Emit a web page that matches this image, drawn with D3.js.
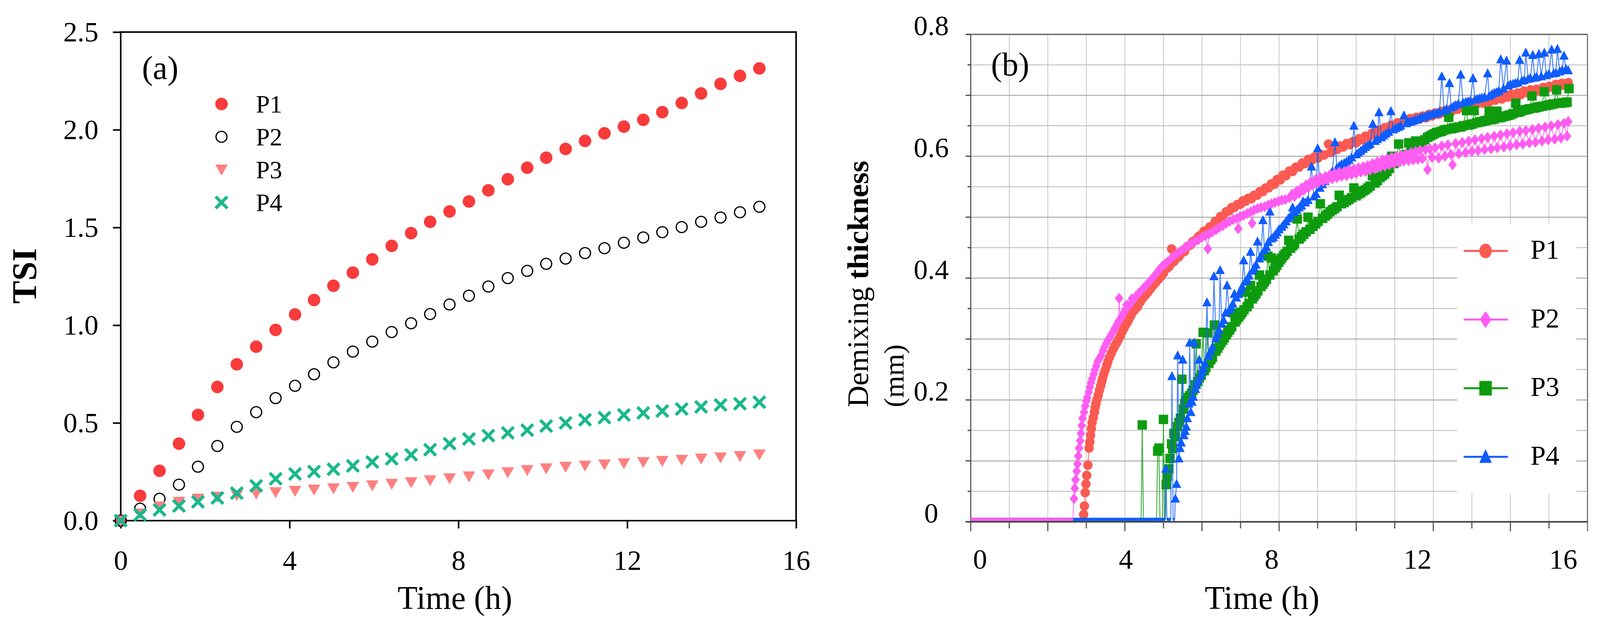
<!DOCTYPE html>
<html>
<head>
<meta charset="utf-8">
<script src="https://cdn.jsdelivr.net/npm/d3@7"></script>
<style>
  body { margin: 0; background: #fff; }
  svg text { font-family: "Liberation Serif", "Times New Roman", serif; fill: #000; }
</style>
</head>
<body>
<div id="chart"></div>
<script>
const W = 4104, H = 1599;

// ---- panel (a): TSI, one reading every ~27.5 min
const timeA = [0, 0.46, 0.92, 1.38, 1.83, 2.29, 2.75, 3.21, 3.67, 4.13, 4.58, 5.04, 5.5, 5.96, 6.42, 6.88, 7.33,
  7.79, 8.25, 8.71, 9.17, 9.63, 10.08, 10.54, 11, 11.46, 11.92, 12.38, 12.83, 13.29, 13.75, 14.21, 14.67, 15.13];
const tsiP1 = [0, 0.127, 0.255, 0.394, 0.541, 0.684, 0.8, 0.89, 0.976, 1.055, 1.129, 1.202, 1.269, 1.337, 1.406,
  1.471, 1.529, 1.582, 1.633, 1.69, 1.747, 1.806, 1.857, 1.902, 1.943, 1.982, 2.016, 2.051, 2.09, 2.137, 2.186, 2.235, 2.276, 2.314];
const tsiP2 = [0, 0.061, 0.112, 0.184, 0.276, 0.382, 0.48, 0.555, 0.627, 0.69, 0.749, 0.81, 0.865, 0.916, 0.965,
  1.01, 1.057, 1.106, 1.151, 1.198, 1.241, 1.278, 1.314, 1.341, 1.369, 1.394, 1.422, 1.449, 1.476, 1.502, 1.529, 1.551, 1.578, 1.606];
const tsiP3 = [0, 0.036, 0.072, 0.096, 0.112, 0.122, 0.13, 0.138, 0.145, 0.152, 0.158, 0.165, 0.172, 0.18, 0.188,
  0.196, 0.206, 0.216, 0.226, 0.236, 0.247, 0.258, 0.267, 0.275, 0.281, 0.287, 0.293, 0.299, 0.305, 0.311, 0.317, 0.323, 0.33, 0.338];
const tsiP4 = [0, 0.03, 0.055, 0.075, 0.096, 0.116, 0.141, 0.178, 0.214, 0.239, 0.251, 0.263, 0.28, 0.3, 0.316,
  0.337, 0.363, 0.394, 0.418, 0.435, 0.449, 0.463, 0.484, 0.5, 0.516, 0.527, 0.541, 0.551, 0.561, 0.571, 0.582, 0.592, 0.598, 0.606];

const seriesNames = ["P1", "P2", "P3", "P4"];
const hourTicks = [0, 4, 8, 12, 16];
const tsiTicks = [0, 0.5, 1, 1.5, 2, 2.5];
const demixTicks = [0, 0.2, 0.4, 0.6, 0.8];

// ---- panel (b): demixing thickness, [time h, mm]
const demixP1 = [[0,.004],[0.5,.004],[1,.004],[1.5,.004],[2,.004],[2.5,.004],[2.9,.004],
  [2.93,.012],[2.95,.026],[2.97,.048],[2.99,.062],[3.01,.076],[3.04,.093],[3.07,.121],[3.09,.131],[3.11,.142],[3.13,.153],
  [3.15,.163],[3.18,.171],[3.21,.18],[3.23,.188],[3.25,.194],[3.28,.201],[3.31,.208],[3.34,.216],[3.37,.223],[3.4,.23],
  [3.42,.235],[3.45,.242],[3.49,.249],[3.53,.257],[3.56,.263],[3.6,.27],[3.65,.277],[3.7,.284],[3.74,.289],[3.79,.294],
  [3.83,.299],[3.88,.305],[3.92,.311],[3.97,.317],[4.01,.322],[4.06,.327],[4.1,.332],[4.15,.338],[4.19,.343],[4.26,.348],
  [4.33,.353],[4.4,.361],[4.46,.367],[4.53,.372],[4.6,.377],[4.67,.383],[4.73,.388],[4.8,.393],[4.87,.398],[4.94,.403],
  [5,.408],[5.09,.416],[5.15,.419],[5.21,.448],[5.27,.427],[5.33,.432],[5.4,.435],[5.47,.441],[5.55,.444],[5.62,.452],
  [5.69,.454],[5.76,.46],[5.83,.462],[5.91,.468],[5.98,.471],[6.05,.477],[6.12,.478],[6.2,.484],[6.27,.485],[6.34,.493],
  [6.41,.494],[6.48,.501],[6.55,.502],[6.63,.509],[6.7,.51],[6.77,.516],[6.84,.516],[6.92,.521],[6.99,.521],[7.06,.527],
  [7.13,.526],[7.2,.531],[7.28,.53],[7.35,.536],[7.43,.536],[7.5,.542],[7.58,.542],[7.65,.548],[7.73,.548],[7.8,.555],
  [7.88,.554],[7.95,.562],[8.03,.561],[8.1,.569],[8.18,.568],[8.27,.576],[8.35,.575],[8.43,.582],[8.52,.582],[8.6,.589],
  [8.68,.588],[8.76,.595],[8.84,.593],[8.92,.599],[9.01,.597],[9.09,.603],[9.17,.602],[9.28,.62],[9.34,.606],[9.42,.612],
  [9.5,.611],[9.58,.617],[9.66,.615],[9.75,.621],[9.83,.619],[9.91,.624],[10,.622],[10.08,.629],[10.16,.627],[10.24,.633],
  [10.33,.632],[10.41,.638],[10.49,.636],[10.57,.643],[10.66,.641],[10.74,.647],[10.82,.645],[10.9,.651],[10.98,.649],
  [11.07,.655],[11.15,.652],[11.23,.658],[11.31,.656],[11.4,.662],[11.48,.659],[11.56,.664],[11.64,.661],[11.72,.666],
  [11.81,.663],[11.89,.669],[11.97,.666],[12.05,.671],[12.14,.669],[12.22,.674],[12.3,.671],[12.38,.676],[12.46,.673],
  [12.55,.679],[12.63,.677],[12.71,.682],[12.79,.68],[12.88,.686],[12.96,.683],[13.04,.688],[13.12,.685],[13.2,.69],
  [13.29,.687],[13.37,.692],[13.45,.689],[13.53,.694],[13.61,.692],[13.7,.697],[13.78,.694],[13.86,.7],[13.94,.697],
  [14.02,.702],[14.11,.699],[14.19,.704],[14.27,.701],[14.35,.707],[14.44,.704],[14.52,.709],[14.6,.705],[14.68,.71],
  [14.76,.707],[14.85,.713],[14.93,.71],[15.01,.715],[15.09,.713],[15.18,.718],[15.26,.715],[15.34,.72],[15.42,.716],[15.5,.721]];

const demixP2 = [[0,.004],[0.5,.004],[1,.004],[1.5,.004],[2,.004],[2.5,.004],[2.65,.004],
  [2.68,.038],[2.7,.055],[2.72,.069],[2.75,.083],[2.77,.095],[2.79,.108],[2.81,.121],[2.84,.133],[2.86,.145],[2.88,.158],
  [2.9,.17],[2.94,.18],[2.97,.19],[3,.198],[3.02,.204],[3.06,.213],[3.09,.221],[3.12,.228],[3.15,.235],[3.19,.242],
  [3.22,.249],[3.26,.256],[3.29,.263],[3.34,.268],[3.38,.273],[3.43,.281],[3.47,.287],[3.52,.293],[3.56,.298],[3.61,.303],
  [3.65,.308],[3.7,.313],[3.74,.318],[3.79,.323],[3.83,.329],[3.85,.367],[3.88,.333],[3.92,.337],[3.97,.343],[4.01,.348],
  [4.04,.356],[4.08,.353],[4.15,.358],[4.18,.366],[4.22,.364],[4.28,.37],[4.35,.375],[4.42,.379],[4.49,.384],[4.55,.388],
  [4.62,.393],[4.69,.398],[4.76,.403],[4.82,.408],[4.89,.414],[4.96,.419],[5.02,.422],[5.09,.426],[5.18,.431],[5.27,.436],
  [5.37,.441],[5.46,.445],[5.55,.449],[5.64,.453],[5.73,.457],[5.82,.46],[5.91,.463],[6,.467],[6.09,.47],[6.15,.448],
  [6.18,.472],[6.27,.476],[6.36,.479],[6.45,.483],[6.54,.486],[6.63,.49],[6.72,.493],[6.81,.496],[6.9,.498],[6.94,.481],
  [6.99,.501],[7.08,.503],[7.17,.506],[7.26,.509],[7.3,.49],[7.35,.512],[7.44,.514],[7.53,.516],[7.62,.517],[7.71,.52],
  [7.8,.522],[7.89,.524],[7.98,.526],[8.07,.528],[8.16,.529],[8.27,.532],[8.34,.538],[8.4,.534],[8.46,.543],[8.52,.539],
  [8.58,.548],[8.64,.544],[8.7,.553],[8.76,.548],[8.82,.558],[8.88,.553],[8.95,.562],[9.01,.556],[9.07,.565],[9.14,.559],
  [9.2,.567],[9.26,.561],[9.32,.57],[9.38,.563],[9.44,.572],[9.5,.565],[9.56,.574],[9.62,.567],[9.69,.575],[9.75,.568],
  [9.81,.578],[9.88,.57],[9.94,.579],[10,.572],[10.06,.581],[10.12,.574],[10.18,.583],[10.24,.575],[10.3,.585],[10.36,.577],
  [10.42,.588],[10.49,.579],[10.55,.591],[10.62,.582],[10.68,.594],[10.74,.584],[10.8,.596],[10.86,.586],[10.92,.598],
  [10.98,.588],[11.04,.6],[11.1,.59],[11.17,.602],[11.23,.592],[11.29,.604],[11.36,.593],[11.42,.606],[11.48,.594],
  [11.54,.608],[11.6,.595],[11.66,.61],[11.72,.596],[11.8,.611],[11.85,.578],[11.91,.612],[11.97,.598],[12.05,.614],
  [12.14,.597],[12.22,.617],[12.3,.6],[12.38,.619],[12.46,.603],[12.5,.586],[12.58,.621],[12.66,.604],[12.75,.623],
  [12.84,.606],[12.92,.625],[13,.608],[13.08,.627],[13.16,.609],[13.25,.629],[13.33,.611],[13.41,.631],[13.5,.612],
  [13.58,.633],[13.66,.614],[13.74,.635],[13.83,.615],[13.91,.637],[13.99,.617],[14.07,.639],[14.16,.619],[14.24,.641],
  [14.32,.62],[14.4,.642],[14.49,.622],[14.57,.644],[14.65,.623],[14.73,.646],[14.82,.625],[14.9,.648],[14.98,.627],
  [15.06,.65],[15.15,.628],[15.23,.652],[15.31,.63],[15.39,.654],[15.47,.633],[15.5,.657]];

const demixP3 = [[0,.004],[0.5,.004],[1,.004],[1.5,.004],[2,.004],[2.5,.004],[3,.004],[3.5,.004],[4,.004],[4.42,.004],
  [4.45,.159],[4.48,.004],[4.82,.004],[4.85,.116],[4.88,.121],[4.91,.004],[4.97,.004],[5,.168],[5.03,.004],[5.05,.004],
  [5.07,.061],[5.1,.075],[5.14,.087],[5.17,.104],[5.21,.128],[5.24,.12],[5.27,.145],[5.31,.14],[5.36,.156],[5.4,.163],
  [5.44,.17],[5.48,.234],[5.52,.185],[5.55,.194],[5.59,.199],[5.64,.204],[5.68,.207],[5.73,.211],[5.77,.216],[5.82,.225],
  [5.85,.292],[5.89,.23],[5.93,.236],[5.98,.241],[6.03,.311],[6.06,.248],[6.1,.253],[6.14,.31],[6.18,.26],[6.23,.266],
  [6.27,.27],[6.32,.323],[6.36,.28],[6.41,.285],[6.45,.29],[6.49,.294],[6.54,.298],[6.58,.302],[6.63,.307],[6.67,.311],
  [6.72,.315],[6.77,.32],[6.81,.343],[6.86,.328],[6.9,.332],[6.95,.336],[7,.34],[7.04,.344],[7.09,.348],[7.13,.377],
  [7.17,.353],[7.22,.358],[7.26,.388],[7.31,.366],[7.35,.37],[7.4,.374],[7.45,.379],[7.49,.405],[7.53,.386],[7.58,.39],
  [7.62,.394],[7.67,.398],[7.71,.436],[7.76,.405],[7.8,.433],[7.85,.412],[7.9,.417],[7.94,.421],[7.99,.426],[8.03,.43],
  [8.07,.433],[8.12,.437],[8.16,.44],[8.21,.444],[8.25,.462],[8.3,.449],[8.35,.453],[8.4,.456],[8.47,.497],[8.52,.464],
  [8.58,.468],[8.64,.472],[8.7,.476],[8.75,.5],[8.8,.48],[8.88,.485],[8.95,.489],[9.01,.493],[9.07,.522],[9.13,.498],
  [9.2,.502],[9.26,.505],[9.32,.509],[9.38,.512],[9.44,.514],[9.5,.517],[9.56,.536],[9.62,.522],[9.69,.524],[9.75,.527],
  [9.81,.529],[9.88,.532],[9.94,.548],[10,.535],[10.06,.538],[10.12,.54],[10.18,.543],[10.24,.545],[10.3,.548],[10.36,.551],
  [10.42,.568],[10.49,.556],[10.55,.56],[10.62,.565],[10.68,.568],[10.74,.571],[10.8,.575],[10.86,.58],[10.92,.6],
  [10.98,.588],[11.04,.591],[11.1,.62],[11.17,.597],[11.23,.6],[11.29,.603],[11.36,.622],[11.42,.609],[11.48,.613],
  [11.54,.625],[11.6,.617],[11.66,.62],[11.72,.623],[11.78,.627],[11.85,.631],[11.91,.633],[11.97,.635],[12.03,.637],
  [12.09,.639],[12.16,.64],[12.22,.641],[12.28,.643],[12.34,.644],[12.4,.664],[12.46,.645],[12.52,.646],[12.58,.647],
  [12.65,.648],[12.71,.648],[12.77,.65],[12.86,.675],[12.9,.651],[12.96,.652],[13.02,.653],[13.06,.675],[13.12,.655],
  [13.2,.656],[13.26,.657],[13.32,.658],[13.39,.659],[13.45,.674],[13.51,.66],[13.58,.661],[13.65,.674],[13.7,.663],
  [13.76,.664],[13.82,.665],[13.88,.666],[13.94,.667],[14,.668],[14.07,.67],[14.14,.687],[14.19,.672],[14.25,.673],
  [14.31,.675],[14.38,.676],[14.44,.677],[14.5,.678],[14.56,.699],[14.62,.679],[14.68,.68],[14.74,.681],[14.81,.682],
  [14.88,.706],[14.93,.683],[14.99,.684],[15.06,.685],[15.12,.686],[15.2,.709],[15.25,.687],[15.31,.687],[15.37,.688],
  [15.42,.688],[15.47,.689],[15.52,.711]];

const demixP4 = [[0,.004],[0.5,.004],[1,.004],[1.5,.004],[2,.004],[2.5,.004],[3,.004],[3.5,.004],[4,.004],[4.5,.004],
  [5.04,.004],[5.06,.087],[5.09,.004],[5.19,.004],[5.22,.239],[5.25,.004],[5.29,.004],[5.31,.038],[5.34,.062],[5.37,.273],
  [5.4,.104],[5.43,.121],[5.46,.13],[5.5,.266],[5.53,.142],[5.56,.149],[5.59,.156],[5.62,.17],[5.66,.194],[5.68,.294],
  [5.71,.18],[5.74,.197],[5.77,.205],[5.8,.294],[5.83,.218],[5.86,.225],[5.9,.232],[5.93,.266],[5.96,.239],[6,.246],
  [6.04,.252],[6.08,.26],[6.13,.36],[6.17,.272],[6.22,.28],[6.27,.287],[6.31,.403],[6.36,.301],[6.4,.308],[6.44,.315],
  [6.47,.413],[6.51,.325],[6.56,.331],[6.61,.343],[6.65,.388],[6.7,.347],[6.75,.352],[6.8,.358],[6.84,.374],[6.89,.368],
  [6.95,.374],[7,.38],[7.04,.386],[7.08,.429],[7.12,.394],[7.17,.398],[7.22,.404],[7.26,.443],[7.31,.412],[7.35,.417],
  [7.4,.422],[7.44,.46],[7.49,.432],[7.53,.437],[7.58,.495],[7.62,.446],[7.67,.451],[7.72,.459],[7.76,.509],[7.8,.465],
  [7.85,.467],[7.9,.471],[7.95,.475],[8,.48],[8.07,.484],[8.12,.488],[8.18,.493],[8.24,.498],[8.3,.502],[8.35,.516],
  [8.4,.508],[8.46,.512],[8.52,.516],[8.58,.519],[8.62,.526],[8.68,.524],[8.75,.528],[8.84,.583],[8.9,.534],[8.96,.538],
  [9,.613],[9.06,.548],[9.12,.554],[9.19,.559],[9.26,.565],[9.32,.57],[9.38,.575],[9.45,.623],[9.5,.581],[9.56,.584],
  [9.62,.587],[9.69,.589],[9.75,.591],[9.81,.594],[9.88,.598],[9.94,.65],[10,.603],[10.06,.606],[10.12,.609],[10.18,.612],
  [10.24,.615],[10.3,.618],[10.36,.62],[10.43,.653],[10.49,.625],[10.55,.628],[10.59,.672],[10.65,.631],[10.71,.634],
  [10.77,.637],[10.84,.64],[10.9,.674],[10.96,.644],[11.02,.646],[11.09,.648],[11.15,.65],[11.24,.667],[11.3,.654],
  [11.36,.656],[11.42,.657],[11.48,.658],[11.54,.66],[11.6,.661],[11.66,.663],[11.72,.664],[11.78,.665],[11.85,.667],
  [11.91,.668],[11.97,.669],[12.03,.67],[12.1,.671],[12.16,.673],[12.22,.731],[12.28,.675],[12.34,.677],[12.42,.72],
  [12.46,.68],[12.52,.682],[12.58,.684],[12.65,.686],[12.71,.734],[12.77,.688],[12.84,.689],[12.9,.69],[12.96,.691],
  [13.03,.728],[13.08,.693],[13.14,.694],[13.2,.695],[13.26,.696],[13.33,.697],[13.41,.736],[13.45,.699],[13.52,.702],
  [13.58,.704],[13.64,.705],[13.7,.707],[13.75,.759],[13.82,.711],[13.9,.757],[13.94,.716],[14,.718],[14.07,.719],
  [14.13,.72],[14.19,.721],[14.24,.758],[14.3,.724],[14.36,.725],[14.4,.77],[14.46,.727],[14.52,.728],[14.58,.766],
  [14.63,.729],[14.68,.73],[14.74,.768],[14.8,.731],[14.88,.77],[14.93,.733],[15,.735],[15.07,.775],[15.12,.736],
  [15.18,.737],[15.22,.776],[15.28,.739],[15.34,.741],[15.39,.765],[15.44,.743],[15.5,.741]];

const svg = d3.select("#chart").append("svg")
    .attr("width", W)
    .attr("height", H)
    .attr("viewBox", `0 0 ${W} ${H}`);

// ================= panel (a) =================
const a = {left: 309, right: 2038, top: 82, bottom: 1332};
const xA = d3.scaleLinear().domain([0, 16]).range([a.left, a.right]);
const yA = d3.scaleLinear().domain([0, 2.5]).range([a.bottom, a.top]);
const gA = svg.append("g");

gA.append("rect")
    .attr("x", a.left).attr("y", a.top)
    .attr("width", a.right - a.left).attr("height", a.bottom - a.top)
    .attr("fill", "none").attr("stroke", "#000").attr("stroke-width", 4);

const axA = gA.append("g")
    .attr("transform", `translate(0,${a.bottom})`)
    .call(d3.axisBottom(xA).tickValues(hourTicks).tickSize(20).tickSizeOuter(0).tickPadding(55).tickFormat(d3.format("d")));
axA.select(".domain").remove();
axA.selectAll("line").attr("stroke", "#000").attr("stroke-width", 4);
axA.selectAll("text").attr("font-size", 72).attr("font-family", "Liberation Serif");

const ayA = gA.append("g")
    .attr("transform", `translate(${a.left},0)`)
    .call(d3.axisLeft(yA).tickValues(tsiTicks).tickSize(20).tickSizeOuter(0).tickPadding(37).tickFormat(d3.format(".1f")));
ayA.select(".domain").remove();
ayA.selectAll("line").attr("stroke", "#000").attr("stroke-width", 4);
ayA.selectAll("text").attr("font-size", 72).attr("font-family", "Liberation Serif");

const colorsA = {P1: "#f93b3b", P2: "#000", P3: "#ff8080", P4: "#17b98b"};

function markerA(g, key, x, y) {
    if (key === "P1") {
        g.append("circle").attr("cx", x).attr("cy", y).attr("r", 16).attr("fill", colorsA.P1);
    } else if (key === "P2") {
        g.append("circle").attr("cx", x).attr("cy", y).attr("r", 14)
            .attr("fill", "none").attr("stroke", colorsA.P2).attr("stroke-width", 3.2);
    } else if (key === "P3") {
        g.append("path")
            .attr("d", `M${x - 16},${y - 13}L${x + 16},${y - 13}L${x},${y + 15}Z`)
            .attr("fill", colorsA.P3);
    } else {
        const h = 15;
        g.append("path")
            .attr("d", `M${x - h},${y - h}L${x + h},${y + h}M${x - h},${y + h}L${x + h},${y - h}`)
            .attr("stroke", colorsA.P4).attr("stroke-width", 8).attr("fill", "none");
    }
}

const tsiSeries = {P1: tsiP1, P2: tsiP2, P3: tsiP3, P4: tsiP4};
seriesNames.forEach(key => {
    const g = gA.append("g");
    tsiSeries[key].forEach((v, i) => markerA(g, key, xA(timeA[i]), yA(v)));
});

// legend (a)
const legA = gA.append("g");
seriesNames.forEach((key, i) => {
    const ly = 266 + i * 84;
    markerA(legA, key, 567, ly);
    legA.append("text").attr("x", 655).attr("y", ly + 22).attr("font-size", 64).text(key);
});

gA.append("text").attr("x", 410).attr("y", 202).attr("text-anchor", "middle").attr("font-size", 84).text("(a)");
gA.append("text").attr("transform", "translate(92,706) rotate(-90)").attr("text-anchor", "middle")
    .attr("font-size", 88).attr("font-weight", "bold").text("TSI");
gA.append("text").attr("x", (a.left + a.right) / 2 - 9).attr("y", 1558).attr("text-anchor", "middle")
    .attr("font-size", 84).text("Time (h)");

// ================= panel (b) =================
const b = {left: 2485, right: 4064, top: 88, bottom: 1335};
const xB = d3.scaleLinear().domain([0, 16]).range([b.left, b.right]);
const yB = d3.scaleLinear().domain([0, 0.8]).range([b.bottom, b.top]);
// printed hour labels in the original sit slightly off their ticks
const xLabB = d3.scaleLinear().domain([0, 16]).range([2509, 4002]);
const gB = svg.append("g");

const hourGrid = xB.ticks(16);
const mmGrid = yB.ticks(16);
const isMajorY = v => Math.round(v * 20) % 2 === 0;
const isMajorX = v => Math.round(v) % 2 === 0;

gB.append("g").selectAll("line").data(hourGrid.filter(v => v > 0 && v < 16)).join("line")
    .attr("x1", d => xB(d)).attr("x2", d => xB(d))
    .attr("y1", b.top).attr("y2", b.bottom)
    .attr("stroke", "#d2d2d2").attr("stroke-width", 2.5);
gB.append("g").selectAll("line").data(mmGrid.filter(v => v > 0 && v < 0.79)).join("line")
    .attr("x1", b.left).attr("x2", b.right)
    .attr("y1", d => yB(d)).attr("y2", d => yB(d))
    .attr("stroke", d => isMajorY(d) ? "#aaaaaa" : "#c4c4c4").attr("stroke-width", 2.5);

// white legend background that hides part of the grid
gB.append("rect").attr("x", 3730).attr("y", 572).attr("width", 305).attr("height", 690).attr("fill", "#fff");

// frame, axes and ticks
gB.append("line").attr("x1", b.left - 11).attr("x2", b.right).attr("y1", b.top).attr("y2", b.top)
    .attr("stroke", "#555").attr("stroke-width", 3);
gB.append("line").attr("x1", b.right).attr("x2", b.right).attr("y1", b.top).attr("y2", b.bottom + 24)
    .attr("stroke", "#777").attr("stroke-width", 3);
gB.append("line").attr("x1", b.left).attr("x2", b.left).attr("y1", b.top).attr("y2", b.bottom + 24)
    .attr("stroke", "#555").attr("stroke-width", 3);
gB.append("line").attr("x1", b.left - 13).attr("x2", b.right).attr("y1", b.bottom).attr("y2", b.bottom)
    .attr("stroke", "#444").attr("stroke-width", 4);
gB.append("g").selectAll("line").data(hourGrid.filter(v => v > 0 && v < 16)).join("line")
    .attr("x1", d => xB(d)).attr("x2", d => xB(d))
    .attr("y1", b.bottom).attr("y2", d => b.bottom + (isMajorX(d) ? 24 : 17))
    .attr("stroke", "#555").attr("stroke-width", 3);
gB.append("g").selectAll("line").data(mmGrid.filter(v => v > 0)).join("line")
    .attr("x1", b.left).attr("x2", d => b.left - (isMajorY(d) ? 13 : 8))
    .attr("y1", d => yB(d)).attr("y2", d => yB(d))
    .attr("stroke", "#444").attr("stroke-width", 3);

gB.append("g").selectAll("text").data(demixTicks).join("text")
    .attr("x", 2384).attr("y", d => yB(d) + 2)
    .attr("text-anchor", "middle").attr("font-size", 72)
    .text(d => d === 0 ? "0" : d3.format(".1f")(d));
gB.append("g").selectAll("text").data(hourTicks).join("text")
    .attr("x", d => xLabB(d)).attr("y", 1455)
    .attr("text-anchor", "middle").attr("font-size", 72)
    .text(d => d);

const colorsB = {P1: "#fb5a52", P2: "#ff5cf2", P3: "#0e9c0e", P4: "#0f5cff"};

function markerB(g, key, x, y, sx, sy) {
    sx = sx || 1; sy = sy || 1;
    const c = colorsB[key];
    if (key === "P1") {
        g.append("ellipse").attr("cx", x).attr("cy", y).attr("rx", 12 * sx).attr("ry", 12 * sy).attr("fill", c);
    } else if (key === "P2") {
        g.append("path").attr("d", `M${x},${y - 14 * sy}L${x + 11 * sx},${y}L${x},${y + 14 * sy}L${x - 11 * sx},${y}Z`).attr("fill", c);
    } else if (key === "P3") {
        g.append("rect").attr("x", x - 12 * sx).attr("y", y - 12 * sy).attr("width", 24 * sx).attr("height", 24 * sy).attr("fill", c);
    } else {
        g.append("path").attr("d", `M${x},${y - 13 * sy}L${x + 12 * sx},${y + 10 * sy}L${x - 12 * sx},${y + 10 * sy}Z`).attr("fill", c);
    }
}

const demixSeries = {P1: demixP1, P2: demixP2, P3: demixP3, P4: demixP4};
const lineB = d3.line().x(d => xB(d[0])).y(d => yB(d[1]));
const flatB = d3.line().defined(d => d[1] < 0.005).x(d => xB(d[0])).y(d => yB(d[1]));

["P1", "P3", "P4", "P2"].forEach(key => {
    const data = demixSeries[key];
    const g = gB.append("g");
    g.append("path").datum(data).attr("d", lineB)
        .attr("fill", "none").attr("stroke", colorsB[key]).attr("stroke-width", 2.5).attr("opacity", 0.75);
    g.append("path").datum(data).attr("d", flatB)
        .attr("fill", "none").attr("stroke", colorsB[key]).attr("stroke-width", 8);
    data.filter(d => d[1] >= 0.005).forEach(d => markerB(g, key, xB(d[0]), yB(d[1])));
});

// legend (b)
const legB = gB.append("g");
seriesNames.forEach((key, i) => {
    const ly = 642 + i * 175.6;
    legB.append("line").attr("x1", 3747).attr("x2", 3860).attr("y1", ly).attr("y2", ly)
        .attr("stroke", colorsB[key]).attr("stroke-width", 5);
    markerB(legB, key, 3803, ly, 1.33, 1.55);
    legB.append("text").attr("x", 3918).attr("y", ly + 20).attr("font-size", 70).text(key);
});

gB.append("text").attr("x", 2586).attr("y", 193).attr("text-anchor", "middle").attr("font-size", 84).text("(b)");
gB.append("text").attr("x", 3231).attr("y", 1558).attr("text-anchor", "middle").attr("font-size", 84).text("Time (h)");

const yTitle = gB.append("text").attr("transform", "translate(2222,1042) rotate(-90)")
    .attr("text-anchor", "start").attr("font-size", 76)
    .attr("textLength", 631).attr("lengthAdjust", "spacingAndGlyphs");
yTitle.append("tspan").text("Demixing ");
yTitle.append("tspan").attr("font-weight", "bold").text("thickness");
gB.append("text").attr("transform", "translate(2313,1042) rotate(-90)")
    .attr("text-anchor", "start").attr("font-size", 72)
    .attr("textLength", 161).attr("lengthAdjust", "spacingAndGlyphs").text("(mm)");
</script>
</body>
</html>
